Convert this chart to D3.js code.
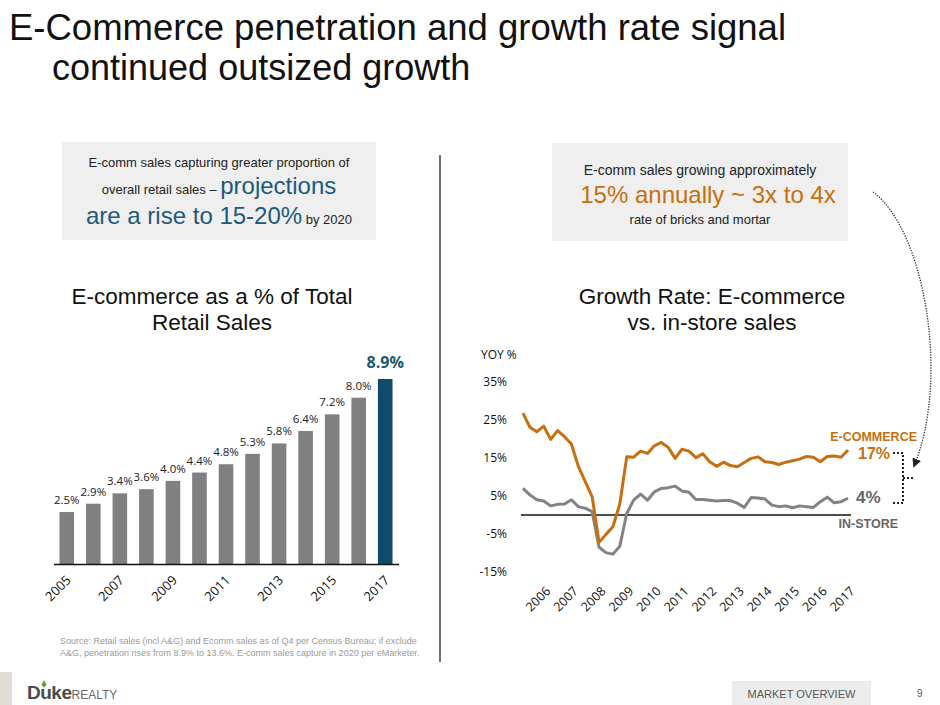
<!DOCTYPE html>
<html><head><meta charset="utf-8">
<script src="https://cdnjs.cloudflare.com/ajax/libs/d3/7.8.5/d3.min.js"></script>
<style>
html,body{margin:0;padding:0;background:#fff;}
svg{display:block;}
text{font-family:"Liberation Sans",Arial,sans-serif;}
.cal{font-family:"Open Sans","Noto Sans",sans-serif;}
</style></head>
<body>
<svg id="chart" width="940" height="705"></svg>
<script>
// ---- Data ----
const barYears = [2005,2006,2007,2008,2009,2010,2011,2012,2013,2014,2015,2016,2017];
const barValues = [2.5,2.9,3.4,3.6,4.0,4.4,4.8,5.3,5.8,6.4,7.2,8.0,8.9];
const barTickYears = [2005,2007,2009,2011,2013,2015,2017];

// quarterly YOY growth, 2006 Q1 .. 2017 Q4
const quarters = d3.range(48);
const ecommGrowth = [26.8,23.1,21.9,23.4,19.9,22.2,20.6,18.7,12.8,8.8,4.8,-7.2,
  -5.1,-3.1,2.9,15.3,15.2,16.8,16.2,18.2,19.1,17.8,14.9,17.3,
  16.8,15.1,16.1,14.0,12.8,13.9,13.0,12.7,13.8,14.9,15.3,14.0,
  13.8,13.3,13.9,14.3,14.7,15.4,15.2,14.0,15.4,15.5,15.2,17.1];
const instoreGrowth = [7.0,5.3,4.0,3.7,2.4,2.8,2.9,4.0,2.2,1.8,0.9,-8.5,
  -9.9,-10.3,-8.2,0.4,3.9,5.5,3.9,6.1,7.0,7.2,7.6,6.3,
  6.0,4.1,4.1,3.9,3.7,3.8,3.8,3.1,2.0,4.6,4.5,4.2,
  2.6,2.2,2.4,1.9,2.4,2.2,2.0,3.5,4.7,3.2,3.5,4.4];
const lineTickYears = [2006,2007,2008,2009,2010,2011,2012,2013,2014,2015,2016,2017];
const yTicks = [-15,-5,5,15,25,35];

const ORANGE = "#c76f0e", GRAY = "#828282", BLUE = "#1c5a7c", BARBLUE = "#0d4c6d", TEAL = "#1b5b6c";

const svg = d3.select("#chart");

// ---- Title ----
svg.append("text").attr("x", 9).attr("y", 40).attr("font-size", 36.5).attr("fill", "#111")
  .text("E-Commerce penetration and growth rate signal");
svg.append("text").attr("x", 52).attr("y", 80).attr("font-size", 36).attr("fill", "#111")
  .text("continued outsized growth");

// ---- Callout boxes ----
svg.append("rect").attr("x", 62).attr("y", 142).attr("width", 314).attr("height", 98).attr("fill", "#efefef");
svg.append("rect").attr("x", 552).attr("y", 143).attr("width", 296).attr("height", 98).attr("fill", "#efefef");

svg.append("text").attr("x", 219).attr("y", 167).attr("text-anchor", "middle").attr("font-size", 13).attr("fill", "#222")
  .text("E-comm sales capturing greater proportion of");
const t2 = svg.append("text").attr("x", 219).attr("y", 194).attr("text-anchor", "middle").attr("fill", "#222");
t2.append("tspan").attr("font-size", 13).text("overall retail sales – ");
t2.append("tspan").attr("font-size", 24).attr("fill", BLUE).text("projections");
const t3 = svg.append("text").attr("x", 219).attr("y", 224).attr("text-anchor", "middle").attr("fill", "#222");
t3.append("tspan").attr("font-size", 24).attr("fill", BLUE).text("are a rise to 15-20%");
t3.append("tspan").attr("font-size", 13).text(" by 2020");

svg.append("text").attr("x", 700).attr("y", 175).attr("text-anchor", "middle").attr("font-size", 14).attr("fill", "#222")
  .text("E-comm sales growing approximately");
svg.append("text").attr("x", 708).attr("y", 203).attr("text-anchor", "middle").attr("font-size", 24).attr("fill", ORANGE)
  .text("15% annually ~ 3x to 4x");
svg.append("text").attr("x", 700).attr("y", 224).attr("text-anchor", "middle").attr("font-size", 13).attr("fill", "#222")
  .text("rate of bricks and mortar");

// ---- Divider ----
svg.append("line").attr("x1", 440).attr("x2", 440).attr("y1", 155).attr("y2", 662).attr("stroke", "#222").attr("stroke-width", 1.3);

// ---- Subtitles ----
svg.append("text").attr("x", 212).attr("y", 304).attr("text-anchor", "middle").attr("font-size", 22.5).attr("fill", "#111").text("E-commerce as a % of Total");
svg.append("text").attr("x", 212).attr("y", 330).attr("text-anchor", "middle").attr("font-size", 22.5).attr("fill", "#111").text("Retail Sales");
svg.append("text").attr("x", 712).attr("y", 304).attr("text-anchor", "middle").attr("font-size", 22.5).attr("fill", "#111").text("Growth Rate: E-commerce");
svg.append("text").attr("x", 712).attr("y", 330).attr("text-anchor", "middle").attr("font-size", 22.5).attr("fill", "#111").text("vs. in-store sales");

// ---- Bar chart ----
const xb = d3.scaleBand().domain(barYears).range([53.5, 398.5]).paddingInner(0.45).paddingOuter(0.225);
const yb = d3.scaleLinear().domain([0, 8.9]).range([564, 379]);
const bars = svg.append("g");
bars.selectAll("rect").data(barYears).join("rect")
  .attr("x", d => xb(d)).attr("width", xb.bandwidth())
  .attr("y", (d, i) => yb(barValues[i])).attr("height", (d, i) => yb(0) - yb(barValues[i]))
  .attr("fill", (d, i) => i === barYears.length - 1 ? BARBLUE : "#808080");
bars.selectAll("text.lab").data(barYears).join("text").attr("class", "lab cal")
  .attr("x", d => xb(d) + xb.bandwidth() / 2)
  .attr("y", (d, i) => yb(barValues[i]) - (i === barYears.length - 1 ? 11 : 8))
  .attr("text-anchor", "middle")
  .attr("font-size", (d, i) => i === barYears.length - 1 ? 16 : 11.5)
  .attr("font-weight", (d, i) => i === barYears.length - 1 ? "bold" : "normal")
  .attr("fill", (d, i) => i === barYears.length - 1 ? TEAL : "#222")
  .text((d, i) => barValues[i].toFixed(1) + "%");
const xbAxis = svg.append("g").attr("transform", "translate(0,564)")
  .call(d3.axisBottom(xb).tickValues(barTickYears).tickSize(0).tickPadding(0));
xbAxis.select(".domain").attr("stroke", "#111").attr("stroke-width", 1.5);
xbAxis.selectAll("text").attr("class", "cal").attr("font-size", 13).attr("fill", "#111")
  .attr("text-anchor", "end").attr("dy", null).attr("y", 0)
  .attr("transform", "translate(5,17) rotate(-45)");

// ---- Line chart ----
const xl = d3.scalePoint().domain(quarters).range([523, 848]);
const yl = d3.scaleLinear().domain([0, 10]).range([515, 477]);

svg.append("text").attr("class", "cal").attr("x", 481).attr("y", 359).attr("font-size", 12).attr("fill", "#111").text("YOY %");
const yAxis = svg.append("g").attr("transform", "translate(507,0)")
  .call(d3.axisLeft(yl).tickValues(yTicks).tickSize(0).tickPadding(0).tickFormat(d => d + "%"));
yAxis.select(".domain").remove();
yAxis.selectAll("text").attr("class", "cal").attr("font-size", 12).attr("fill", "#111");

svg.append("line").attr("x1", 521).attr("x2", 851).attr("y1", yl(0)).attr("y2", yl(0)).attr("stroke", "#111").attr("stroke-width", 1.5);

const xlAxis = svg.append("g").attr("transform", "translate(0,580)")
  .call(d3.axisBottom(xl).tickValues(lineTickYears.map((y, k) => 3 + 4 * k)).tickSize(0).tickPadding(0)
    .tickFormat((d) => lineTickYears[(d - 3) / 4]));
xlAxis.select(".domain").remove();
xlAxis.selectAll("text").attr("class", "cal").attr("font-size", 12.5).attr("fill", "#111")
  .attr("text-anchor", "end").attr("dy", null).attr("y", 0)
  .attr("transform", "translate(7,12) rotate(-45)");

const line = d3.line().x((d, i) => xl(i)).y(d => yl(d)).curve(d3.curveLinear);
svg.append("path").datum(instoreGrowth).attr("d", line).attr("fill", "none").attr("stroke", GRAY)
  .attr("stroke-width", 3).attr("stroke-linejoin", "round");
svg.append("path").datum(ecommGrowth).attr("d", line).attr("fill", "none").attr("stroke", ORANGE)
  .attr("stroke-width", 3).attr("stroke-linejoin", "round");

// ---- Annotations ----
svg.append("text").attr("x", 917).attr("y", 441).attr("text-anchor", "end").attr("font-size", 12.5).attr("font-weight", "bold").attr("fill", ORANGE).text("E-COMMERCE");
svg.append("text").attr("x", 858).attr("y", 459).attr("font-size", 16).attr("font-weight", "bold").attr("fill", ORANGE).text("17%");
svg.append("text").attr("x", 856).attr("y", 503).attr("font-size", 17).attr("font-weight", "bold").attr("fill", "#666").text("4%");
svg.append("text").attr("x", 898).attr("y", 528).attr("text-anchor", "end").attr("font-size", 12.5).attr("font-weight", "bold").attr("fill", "#666").text("IN-STORE");

const defs = svg.append("defs");
defs.append("marker").attr("id", "arr").attr("viewBox", "0 0 10 10").attr("refX", 8).attr("refY", 5)
  .attr("markerWidth", 7).attr("markerHeight", 7).attr("orient", "auto")
  .append("path").attr("d", "M0,0 L10,5 L0,10 Z").attr("fill", "#222");
svg.append("path").attr("d", "M873,192 C925,230 950,380 914,466").attr("fill", "none")
  .attr("stroke", "#333").attr("stroke-width", 1.3).attr("stroke-dasharray", "1.3,1.3").attr("marker-end", "url(#arr)");
svg.append("path").attr("d", "M893,453 H903 V503 H893 M903,478 H913").attr("fill", "none")
  .attr("stroke", "#222").attr("stroke-width", 2).attr("stroke-dasharray", "2,2");

// ---- Footer ----
svg.append("text").attr("x", 60).attr("y", 644).attr("font-size", 9).attr("fill", "#9a9a9a")
  .text("Source:  Retail sales (incl A&G) and Ecomm sales as of Q4 per Census Bureau; if exclude");
svg.append("text").attr("x", 60).attr("y", 656).attr("font-size", 9).attr("fill", "#9a9a9a")
  .text("A&G, penetration rises from 8.9% to 13.6%.  E-comm sales capture in 2020 per eMarketer.");

svg.append("rect").attr("x", 0).attr("y", 672).attr("width", 12).attr("height", 33).attr("fill", "#e2dcd6");
const logo = svg.append("text").attr("x", 27).attr("y", 699).attr("fill", "#4a4a4a");
logo.append("tspan").attr("font-size", 19).attr("font-weight", "bold").attr("letter-spacing", -0.5).text("Duke");
logo.append("tspan").attr("font-size", 12).attr("fill", "#6a6a6a").attr("font-family", "Liberation Sans Narrow, Liberation Sans, sans-serif").text("REALTY");
svg.append("path").attr("d", "M44,680 L41.5,685 L44,687.5 L46.5,685 Z").attr("fill", "#5aa02c");

svg.append("rect").attr("x", 732).attr("y", 681).attr("width", 139).attr("height", 24).attr("fill", "#ececec");
svg.append("text").attr("x", 801.5).attr("y", 698).attr("text-anchor", "middle").attr("font-size", 11).attr("fill", "#555").text("MARKET OVERVIEW");
svg.append("text").attr("x", 917).attr("y", 697).attr("font-size", 10).attr("fill", "#555").text("9");
</script>
</body></html>
